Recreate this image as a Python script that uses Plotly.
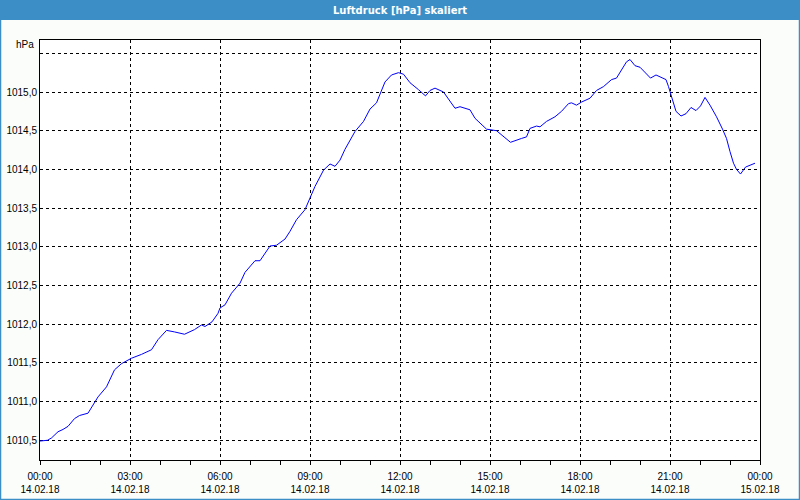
import plotly.graph_objects as go

times = ["00:00","00:15","00:23","00:36","00:46","00:56","01:09","01:19","01:36","01:43",
         "01:56","02:13","02:29","02:43","03:03","03:23","03:43","03:56","04:13","04:29",
         "04:49","05:09","05:23","05:30","05:44","05:56","06:00","06:10","06:23","06:40",
         "06:50","07:10","07:20","07:40","07:53","08:10","08:20","08:33","08:50","09:00",
         "09:10","09:27","09:40","09:50","10:00","10:10","10:30","10:47","11:00","11:13",
         "11:20","11:30","11:43","11:57","12:07","12:20","12:37","12:51","13:00","13:10",
         "13:27","13:39","13:50","14:00","14:20","14:30","14:53","15:13","15:27","15:41",
         "16:03","16:13","16:20","16:33","16:40","16:53","17:10","17:23","17:37","17:43",
         "17:53","18:03","18:20","18:33","18:47","19:03","19:13","19:23","19:33","19:40",
         "19:50","20:00","20:10","20:21","20:32","20:43","20:52","20:57","21:03","21:12",
         "21:22","21:32","21:42","21:52","22:01","22:10","22:20","22:33","22:45","22:53",
         "23:00","23:07","23:13","23:21","23:31","23:40","23:50"]
pressure = [1010.49,1010.50,1010.53,1010.61,1010.64,1010.68,1010.78,1010.82,1010.85,1010.93,
            1011.06,1011.19,1011.41,1011.49,1011.56,1011.61,1011.67,1011.80,1011.92,1011.90,
            1011.87,1011.93,1011.99,1011.97,1012.03,1012.14,1012.21,1012.25,1012.40,1012.53,
            1012.67,1012.82,1012.82,1013.01,1013.02,1013.10,1013.20,1013.35,1013.48,1013.63,
            1013.78,1013.99,1014.07,1014.04,1014.12,1014.26,1014.49,1014.62,1014.78,1014.86,
            1014.98,1015.13,1015.22,1015.25,1015.23,1015.12,1015.03,1014.95,1015.02,1015.05,
            1015.00,1014.89,1014.79,1014.81,1014.77,1014.66,1014.52,1014.50,1014.42,1014.35,
            1014.40,1014.42,1014.53,1014.56,1014.55,1014.62,1014.68,1014.75,1014.85,1014.86,
            1014.83,1014.87,1014.92,1015.02,1015.07,1015.16,1015.18,1015.28,1015.39,1015.42,
            1015.34,1015.32,1015.25,1015.18,1015.22,1015.19,1015.16,1015.07,1014.94,1014.75,
            1014.69,1014.72,1014.80,1014.76,1014.82,1014.93,1014.83,1014.68,1014.52,1014.40,
            1014.23,1014.08,1014.00,1013.94,1014.03,1014.05,1014.08]

x_tickvals = ["2018-02-14 00:00","2018-02-14 03:00","2018-02-14 06:00","2018-02-14 09:00",
              "2018-02-14 12:00","2018-02-14 15:00","2018-02-14 18:00","2018-02-14 21:00",
              "2018-02-15 00:00"]
x_ticktext = ["00:00<br>14.02.18","03:00<br>14.02.18","06:00<br>14.02.18","09:00<br>14.02.18",
              "12:00<br>14.02.18","15:00<br>14.02.18","18:00<br>14.02.18","21:00<br>14.02.18",
              "00:00<br>15.02.18"]
y_tickvals = [1010.5,1011.0,1011.5,1012.0,1012.5,1013.0,1013.5,1014.0,1014.5,1015.0,1015.5]
y_ticktext = ["1010,5","1011,0","1011,5","1012,0","1012,5","1013,0","1013,5","1014,0","1014,5","1015,0",""]

title_text = "Luftdruck [hPa] skaliert"
unit_text = "hPa"

xs = ["2018-02-14 " + t for t in times]

fig = go.Figure()
fig.add_trace(go.Scatter(x=xs, y=pressure, mode="lines",
                         line=dict(color="#0000ff", width=1), hoverinfo="skip"))

font = dict(family="Liberation Sans", size=10, color="#000000")
blue = "#3c8fc6"

fig.update_layout(
    width=800, height=500,
    margin=dict(l=40, r=40, t=40, b=40, autoexpand=False),
    paper_bgcolor="#fbfdfb", plot_bgcolor="#ffffff",
    showlegend=False,
    font=font,
    xaxis=dict(range=["2018-02-14 00:00", "2018-02-15 00:00"], type="date",
               tickvals=x_tickvals, ticktext=x_ticktext, automargin=False,
               showgrid=True, gridcolor="#000000", gridwidth=1, griddash="3px,3px",
               showline=True, linecolor="#000000", linewidth=1, mirror=True,
               ticks="outside", ticklen=4, tickcolor="#000000", ticklabelstandoff=3,
               minor=dict(dtick=3600000, ticks="outside", ticklen=4, tickcolor="#000000", showgrid=False),
               zeroline=False, tickfont=font),
    yaxis=dict(range=[1010.245, 1015.672], tickvals=y_tickvals, ticktext=y_ticktext, automargin=False,
               showgrid=True, gridcolor="#000000", gridwidth=1, griddash="3px,3px",
               showline=True, linecolor="#000000", linewidth=1, mirror=True,
               ticks="", zeroline=False, tickfont=font),
    shapes=[
        dict(type="rect", xref="paper", yref="paper",
             x0=-40/720, x1=1+40/720, y0=1+20/420, y1=1+40/420,
             fillcolor=blue, line=dict(width=0), layer="below"),
        dict(type="rect", xref="paper", yref="paper",
             x0=-40/720+0.5/720, x1=1+40/720-0.5/720, y0=-40/420+0.5/420, y1=1+40/420,
             fillcolor="rgba(0,0,0,0)", line=dict(color=blue, width=1.5)),
    ],
    annotations=[
        dict(text="<b>" + title_text + "</b>", xref="paper", yref="paper", x=0.5, y=1+30/420,
             xanchor="center", yanchor="middle", showarrow=False,
             font=dict(family="DejaVu Sans", size=10, color="#ffffff")),
        dict(text=unit_text, xref="paper", yref="paper", x=-4/720, y=1-5/420,
             xanchor="right", yanchor="middle", showarrow=False, font=font),
    ],
)

fig.write_html("out.html")
